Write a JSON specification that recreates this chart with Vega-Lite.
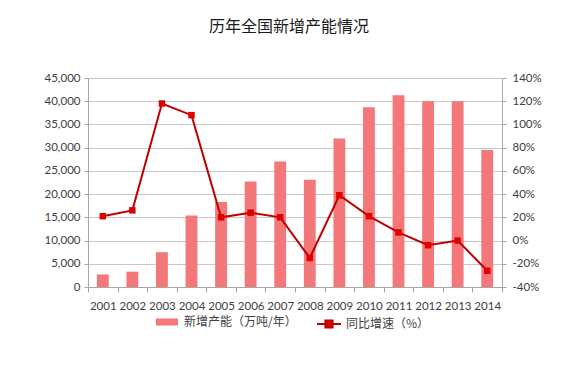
{
  "$schema": "https://vega.github.io/schema/vega-lite/v6.json",
  "width": 414,
  "height": 209,
  "autosize": {"type": "none"},
  "padding": {"left": 88, "top": 78, "right": 84, "bottom": 78},
  "background": "white",
  "title": {
    "text": "历年全国新增产能情况",
    "font": "Noto Sans CJK SC",
    "fontSize": 16,
    "fontWeight": "normal",
    "color": "#1a1a1a",
    "anchor": "middle",
    "dx": -6,
    "offset": 37
  },
  "config": {
    "view": {"stroke": null},
    "axis": {
      "labelFont": "Lato",
      "labelFontSize": 11.5,
      "labelColor": "#404040",
      "domainColor": "#A6A6A6",
      "tickColor": "#A6A6A6",
      "gridColor": "#C8C8C8",
      "labelOverlap": false,
      "labelFlush": false
    }
  },
  "data": {
    "values": [
      {"year": "2001", "cap": 2700, "growth": 21},
      {"year": "2002", "cap": 3300, "growth": 26},
      {"year": "2003", "cap": 7500, "growth": 118},
      {"year": "2004", "cap": 15400, "growth": 108},
      {"year": "2005", "cap": 18300, "growth": 20},
      {"year": "2006", "cap": 22700, "growth": 24},
      {"year": "2007", "cap": 27000, "growth": 20},
      {"year": "2008", "cap": 23100, "growth": -15},
      {"year": "2009", "cap": 32000, "growth": 39},
      {"year": "2010", "cap": 38700, "growth": 21},
      {"year": "2011", "cap": 41300, "growth": 7},
      {"year": "2012", "cap": 40000, "growth": -4},
      {"year": "2013", "cap": 40000, "growth": 0},
      {"year": "2014", "cap": 29500, "growth": -26}
    ]
  },
  "encoding": {
    "x": {
      "field": "year",
      "type": "nominal",
      "scale": {"paddingInner": 0, "paddingOuter": 0},
      "axis": {
        "title": null,
        "labelAngle": 0,
        "tickBand": "extent",
        "tickSize": 5,
        "labelPadding": 8,
        "grid": false
      }
    }
  },
  "layer": [
    {
      "mark": {"type": "bar", "width": {"band": 0.4}},
      "encoding": {
        "y": {
          "field": "cap",
          "type": "quantitative",
          "scale": {"domain": [0, 45000], "nice": false},
          "axis": {
            "title": null,
            "values": [0, 5000, 10000, 15000, 20000, 25000, 30000, 35000, 40000, 45000],
            "format": ",.0f",
            "grid": true,
            "tickSize": 4,
            "labelPadding": 4
          }
        },
        "color": {
          "datum": "新增产能（万吨/年）",
          "scale": {"range": ["#F4777A"]},
          "legend": {
            "title": null,
            "orient": "none",
            "legendX": 68,
            "legendY": 233,
            "symbolType": "M-1,-0.32H1V0.32H-1Z",
            "symbolSize": 484,
            "symbolStrokeWidth": 0,
            "labelFont": "Noto Sans CJK SC",
            "labelFontSize": 12,
            "labelColor": "#404040",
            "labelOffset": 6
          }
        }
      }
    },
    {
      "encoding": {
        "y": {
          "field": "growth",
          "type": "quantitative",
          "scale": {"domain": [-40, 140], "nice": false},
          "axis": {
            "title": null,
            "orient": "right",
            "values": [-40, -20, 0, 20, 40, 60, 80, 100, 120, 140],
            "labelExpr": "datum.value + '%'",
            "grid": false,
            "tickSize": 4,
            "labelPadding": 6
          }
        }
      },
      "layer": [
        {
          "mark": {"type": "line", "strokeWidth": 2},
          "encoding": {
            "color": {
              "datum": "同比增速（%）",
              "scale": {"range": ["#C00000"]},
              "legend": {
                "title": null,
                "orient": "none",
                "legendX": 228,
                "legendY": 233,
                "symbolType": "M-1,0H1M-0.3,-0.3H0.3V0.3H-0.3Z",
                "symbolSize": 576,
                "symbolStrokeWidth": 2,
                "labelFont": "Noto Sans CJK SC",
                "labelFontSize": 12,
                "labelColor": "#404040",
                "labelOffset": 4,
                "encode": {"symbols": {"update": {"fill": {"value": "#E00000"}, "stroke": {"value": "#C00000"}}}}
              }
            }
          }
        },
        {
          "mark": {"type": "point", "shape": "square", "filled": true, "size": 42, "color": "#E00000", "opacity": 1},
          "encoding": {}
        }
      ]
    }
  ],
  "resolve": {"scale": {"y": "independent", "color": "independent"}}
}
